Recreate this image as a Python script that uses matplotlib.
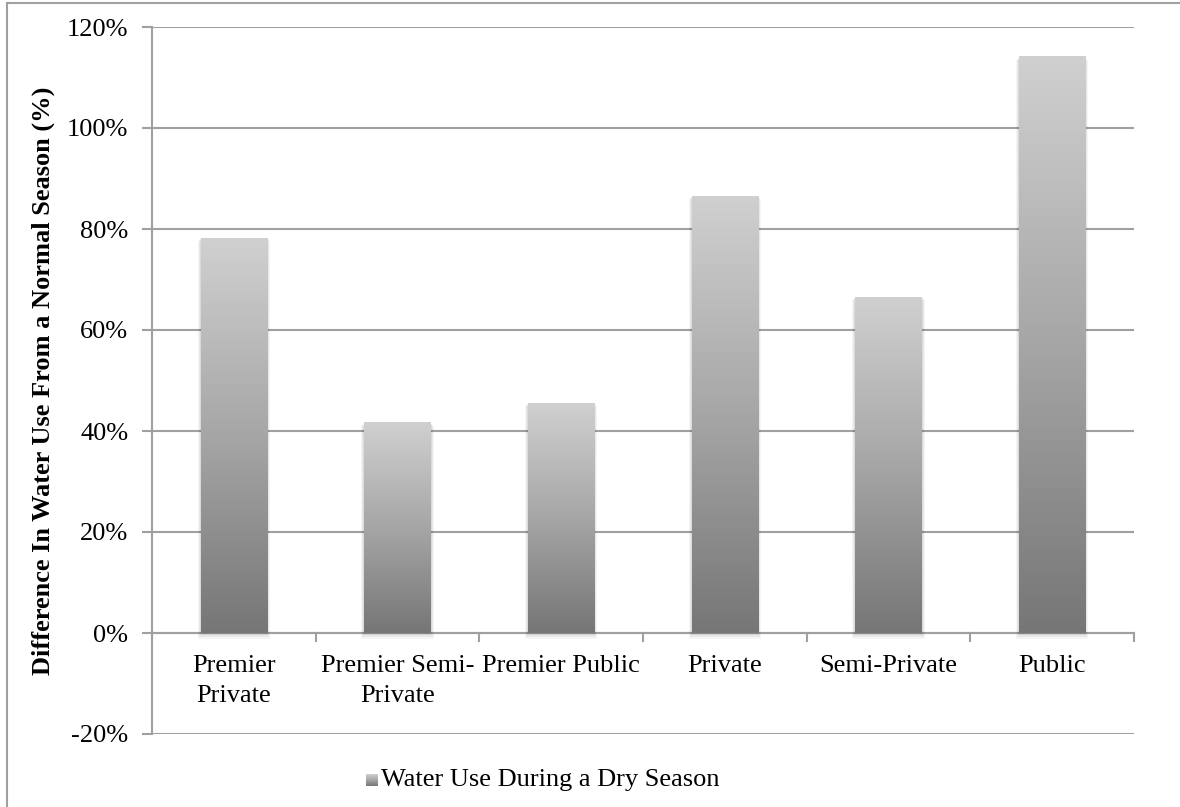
import numpy as np
import matplotlib
matplotlib.use("Agg")
import matplotlib.pyplot as plt
from matplotlib.colors import LinearSegmentedColormap
from matplotlib.patches import Rectangle
from matplotlib.ticker import FuncFormatter

categories = ["Premier\nPrivate", "Premier Semi-\nPrivate", "Premier Public",
              "Private", "Semi-Private", "Public"]
values = [78.2, 41.6, 45.5, 86.5, 66.5, 114.1]
series_name = "Water Use During a Dry Season"
y_ticks = [-20, 0, 20, 40, 60, 80, 100, 120]

plt.rcParams['font.family'] = ['Liberation Serif', 'DejaVu Serif']
FS = 19

fig = plt.figure(figsize=(11.8, 8.07), dpi=100)
ax = fig.add_axes([152/1180, 1 - 734/807, (1134-152)/1180, (734-27)/807])

cmap = LinearSegmentedColormap.from_list("g", ["#767676", "#a6a6a6", "#d0d0d0"])
grad = np.linspace(0, 1, 256).reshape(-1, 1)

x = np.arange(len(categories))
width = 0.405
bars = ax.bar(x, values, width=width, color="none", edgecolor="none", zorder=3)
for b in bars:
    x0, w, h = b.get_x(), b.get_width(), b.get_height()
    # subtle shadow
    for i, a in enumerate([0.06, 0.05, 0.04]):
        d = 0.006 * (i + 1)
        ax.add_patch(Rectangle((x0 - d, -1.2 * (i + 1) / 3), w + 2 * d, h + 0.2 * (i + 1),
                               facecolor="#000000", alpha=a, edgecolor="none", zorder=2.5))
    ax.imshow(grad, extent=(x0, x0 + w, 0, h), origin="lower", cmap=cmap,
              aspect="auto", zorder=3, interpolation="bilinear")

ax.set_xlim(-0.5, len(categories) - 0.5)
ax.set_ylim(-20, 120)
ax.set_yticks(y_ticks)
ax.yaxis.set_major_formatter(FuncFormatter(lambda v, p: f"{v:.0f}%"))
ax.grid(axis="y", color="#a0a0a0", linewidth=1.5, zorder=1)
ax.set_axisbelow(True)

for s in ["top", "right", "bottom"]:
    ax.spines[s].set_visible(False)
ax.spines["left"].set_color("#a0a0a0")
ax.spines["left"].set_linewidth(1.5)

# x axis line at 0 with category boundary ticks
ax.axhline(0, color="#a0a0a0", linewidth=1.5, zorder=2)
bounds = np.arange(len(categories) + 1) - 0.5
for bx in bounds:
    ax.plot([bx, bx], [0, -1.5], color="#a0a0a0", linewidth=1.5, clip_on=False, zorder=2)

ax.set_xticks(x)
ax.set_xticklabels([""] * len(categories))
ax.tick_params(axis="x", length=0)
ax.tick_params(axis="y", length=7, width=1.5, color="#a0a0a0", labelsize=FS, pad=10)

for xi, c in zip(x, categories):
    ax.text(xi, -4.3, c, ha="center", va="top", fontsize=FS, linespacing=1.5)

ax.set_ylabel("Difference In Water Use From a Normal Season (%)", fontsize=FS,
              fontweight="bold")
ax.yaxis.set_label_coords(-0.099, 0.5)

# legend (gradient swatch + label)
lax = fig.add_axes([366/1180, 1 - 786/807, 12/1180, 12/807])
lax.imshow(grad, extent=(0, 1, 0, 1), origin="lower", cmap=cmap, aspect="auto")
lax.set_axis_off()
fig.text(381/1180, 1 - 780/807, series_name, ha="left", va="center", fontsize=FS)

# outer frame
fig.add_artist(Rectangle((7/1180, -0.02), 1.1, 1 - 3/807 + 0.02, transform=fig.transFigure,
                         facecolor="none", edgecolor="#a0a0a0", linewidth=1.5))

fig.savefig("out.png", dpi=100)
